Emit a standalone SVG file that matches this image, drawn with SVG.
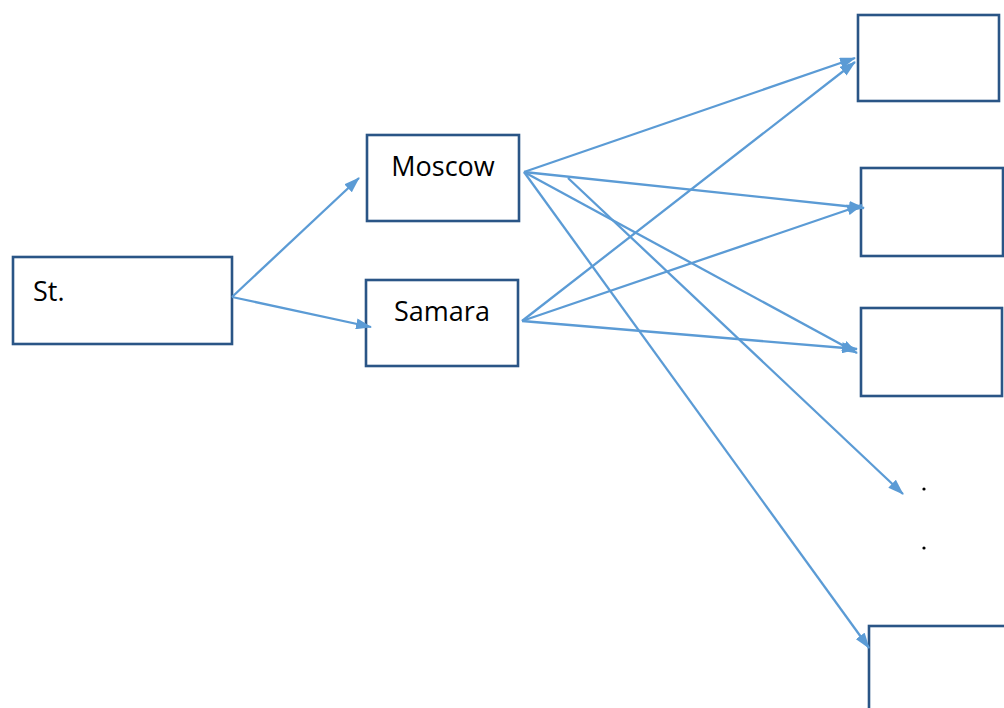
<svg xmlns="http://www.w3.org/2000/svg" width="1004" height="708" viewBox="0 0 1004 708">
<style>
.box{fill:#fff;stroke:#2A5586;stroke-width:2.6}
.lbl{font-family:"Open Sans","Liberation Sans",sans-serif;font-size:27px;fill:#000}
.c{stroke:#5B9BD5;stroke-width:2.3;fill:none;marker-end:url(#ah)}
</style>
<defs>
<marker id="ah" viewBox="0 0 16 11" refX="15" refY="5.5" markerWidth="16" markerHeight="11" markerUnits="userSpaceOnUse" orient="auto">
<path d="M0,0 L16,5.5 L0,11 Z" fill="#5B9BD5"/>
</marker>
</defs>
<rect width="1004" height="708" fill="#fff"/>
<g id="st"><rect class="box" x="13" y="257" width="219" height="87"/><text class="lbl" x="33" y="301">St.</text></g>
<g id="moscow"><rect class="box" x="367" y="135" width="152" height="86"/><text class="lbl" x="443" y="176" text-anchor="middle">Moscow</text></g>
<g id="samara"><rect class="box" x="366" y="280" width="152" height="86"/><text class="lbl" x="442" y="321" text-anchor="middle">Samara</text></g>
<g id="box1"><rect class="box" x="858" y="15" width="141" height="86"/></g>
<g id="box2"><rect class="box" x="861" y="168" width="142" height="88"/></g>
<g id="box3"><rect class="box" x="861" y="308" width="141" height="88"/></g>
<g id="dots"><circle cx="924" cy="489" r="1.6" fill="#000"/><circle cx="924" cy="548" r="1.6" fill="#000"/></g>
<g id="box5"><rect class="box" x="869" y="626" width="140" height="90"/></g>
<g id="connectors">
<line class="c" x1="232" y1="297" x2="359" y2="178"/>
<line class="c" x1="232" y1="297" x2="371" y2="327"/>
<line class="c" x1="524" y1="172" x2="855" y2="58"/>
<line class="c" x1="524" y1="172" x2="864" y2="208"/>
<line class="c" x1="524" y1="172" x2="857" y2="353"/>
<line class="c" x1="524" y1="172" x2="869" y2="648"/>
<line class="c" x1="568" y1="178" x2="903" y2="494"/>
<line class="c" x1="522" y1="321" x2="855" y2="62"/>
<line class="c" x1="522" y1="321" x2="862" y2="205"/>
<line class="c" x1="522" y1="321" x2="857" y2="349"/>
</g>
</svg>
